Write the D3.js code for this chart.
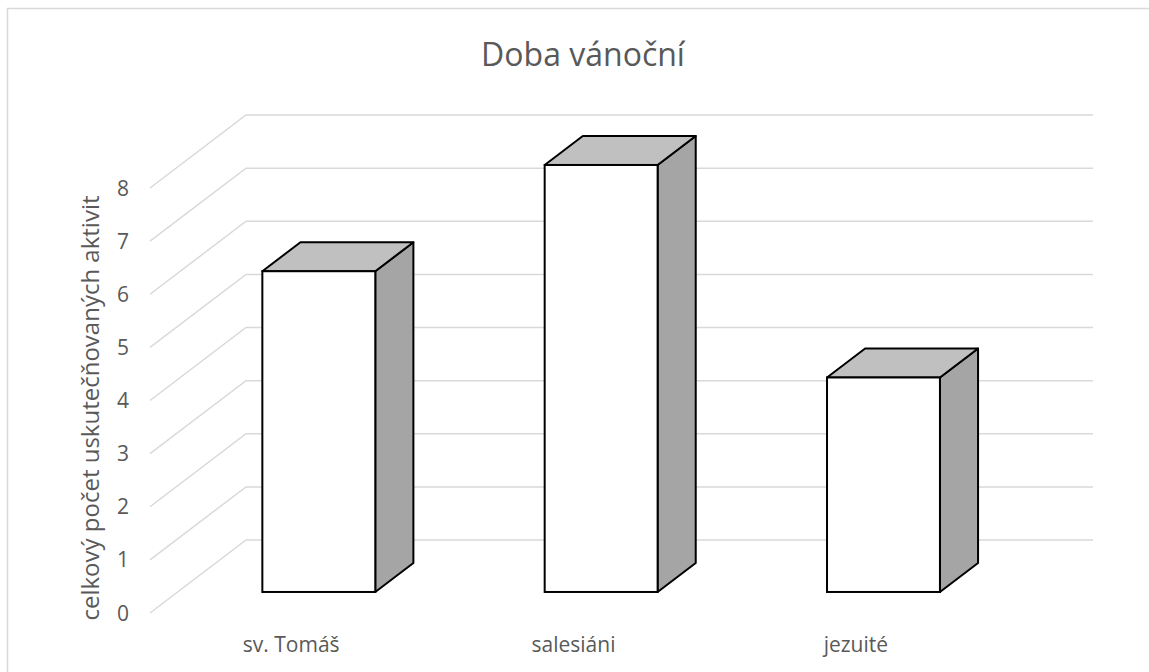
<!DOCTYPE html>
<html>
<head>
<meta charset="utf-8">
<script src="https://cdn.jsdelivr.net/npm/d3@7"></script>
<style>
  body { margin: 0; background: #fff; }
  text { font-family: "Open Sans", Lato, sans-serif; fill: #595959; }
</style>
</head>
<body>
<svg id="chart" width="1149" height="672"></svg>
<script>
// data
const categories = ["sv. Tomáš", "salesiáni", "jezuité"];
const values = [6, 8, 4];
const ticks = [0, 1, 2, 3, 4, 5, 6, 7, 8];
const title = "Doba vánoční";
const yTitle = "celkový počet uskutečňovaných aktivit";

const svg = d3.select("#chart");

// outer border (runs off the right/bottom edge like the original)
svg.append("rect")
  .attr("x", 7.5).attr("y", 8.5)
  .attr("width", 1160).attr("height", 700)
  .attr("fill", "none")
  .attr("stroke", "#d9d9d9")
  .attr("stroke-width", 1.5);

// front plane of the floor, depth goes up/right
const depthX = 96, depthY = -73;
const x = d3.scaleBand().domain(categories).range([150, 997]);
const y = d3.scaleLinear().domain([0, 8]).range([613, 188]);

// gridlines: side wall diagonal + back wall horizontal
const grid = svg.append("g");
ticks.forEach(t => {
  const yf = y(t);
  grid.append("path")
    .attr("d", `M150,${yf} L${150 + depthX},${yf + depthY} L${997 + depthX},${yf + depthY}`)
    .attr("fill", "none")
    .attr("stroke", "#d9d9d9")
    .attr("stroke-width", 1.5);
});

// tick labels
svg.append("g").selectAll("text")
  .data(ticks)
  .join("text")
  .attr("x", 129)
  .attr("y", d => y(d))
  .attr("dy", "0.36em")
  .attr("text-anchor", "end")
  .attr("font-size", 21)
  .text(d => d);

// bars (sit between 0.288 and 0.685 of the depth)
const f1 = 0.288, f2 = 0.685;
const bw = x.bandwidth() * 0.4;
const bars = svg.append("g").selectAll("g")
  .data(categories.map((c, i) => ({cat: c, val: values[i]})))
  .join("g");

bars.each(function(d) {
  const g = d3.select(this);
  const x0 = x(d.cat) + (x.bandwidth() - bw) / 2 + depthX * f1;
  const x1 = x0 + bw;
  const yb = y(0) + depthY * f1;
  const yt = y(d.val) + depthY * f1 - 2;
  const ox = depthX * (f2 - f1), oy = depthY * (f2 - f1);

  g.append("path") // side
    .attr("d", `M${x1},${yb} L${x1 + ox},${yb + oy} L${x1 + ox},${yt + oy} L${x1},${yt} Z`)
    .attr("fill", "#a5a5a5").attr("stroke", "#000").attr("stroke-width", 2)
    .attr("stroke-linejoin", "round");
  g.append("path") // top
    .attr("d", `M${x0},${yt} L${x0 + ox},${yt + oy} L${x1 + ox},${yt + oy} L${x1},${yt} Z`)
    .attr("fill", "#c0c0c0").attr("stroke", "#000").attr("stroke-width", 2)
    .attr("stroke-linejoin", "round");
  g.append("rect") // front
    .attr("x", x0).attr("y", yt)
    .attr("width", bw).attr("height", yb - yt)
    .attr("fill", "#fff").attr("stroke", "#000").attr("stroke-width", 2);
});

// category labels
svg.append("g").selectAll("text")
  .data(categories)
  .join("text")
  .attr("x", d => x(d) + x.bandwidth() / 2)
  .attr("y", 652)
  .attr("text-anchor", "middle")
  .attr("font-size", 21)
  .text(d => d);

// title
svg.append("text")
  .attr("x", 583).attr("y", 66)
  .attr("text-anchor", "middle")
  .attr("font-size", 32)
  .text(title);

// y axis title
svg.append("text")
  .attr("transform", "translate(99,408) rotate(-90)")
  .attr("text-anchor", "middle")
  .attr("font-size", 24)
  .text(yTitle);
</script>
</body>
</html>
